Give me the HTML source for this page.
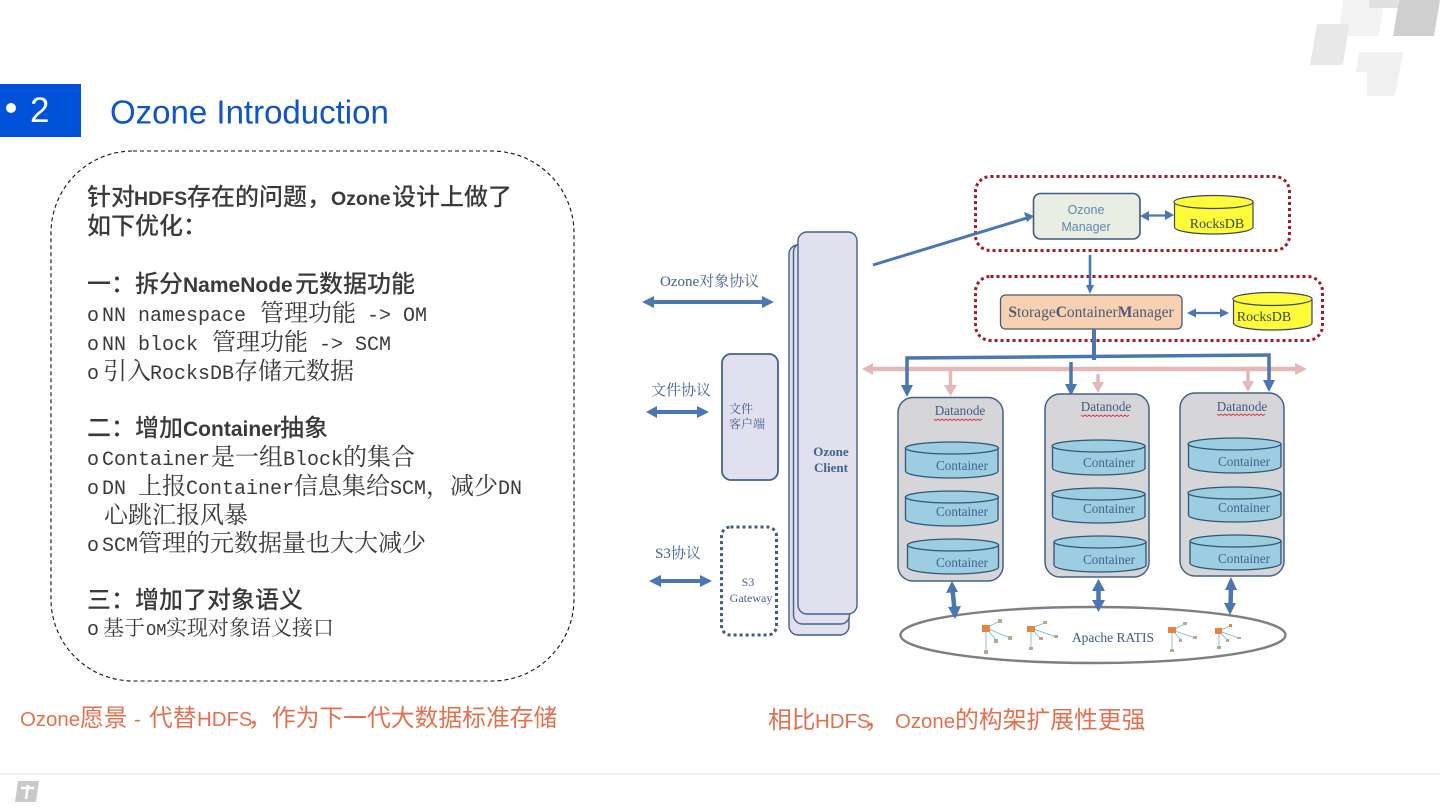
<!DOCTYPE html>
<html lang="zh">
<head>
<meta charset="utf-8">
<title>Ozone Introduction</title>
<style>
html,body{margin:0;padding:0;background:#fff;width:1440px;height:810px;overflow:hidden}
svg{display:block}
.h{font-family:"Liberation Sans","Noto Sans CJK SC",sans-serif;font-size:24px;font-weight:500;fill:#3a3a3a}
.h tspan.l{font-weight:700;font-size:19.500px}
.h tspan.b{font-weight:700;font-size:21px}
.m{font-family:"Liberation Mono","Noto Serif CJK SC",monospace;font-size:20px;fill:#3a3a3a}
.m tspan.c{font-family:"Noto Serif CJK SC",serif;font-size:24px}
.o{font-family:"Liberation Sans","Noto Sans CJK SC",sans-serif;font-size:20.400px;fill:#e5704f}
.o tspan.c{font-size:23.800px}
.s{font-family:"Liberation Serif","Noto Serif CJK SC",serif;fill:#44618f}
.ct{font-family:"Liberation Serif",serif;font-size:13.200px;fill:#44648f;text-anchor:middle}
.dn{font-family:"Liberation Serif",serif;font-size:13.200px;fill:#3f5a86;text-anchor:middle}
.rk{font-family:"Liberation Serif",serif;font-size:14px;fill:#3b4a3a;text-anchor:middle}
.cyl{fill:#9ccde0;stroke:#2f5578;stroke-width:1.300}
.dnb{fill:#d6d6d8;stroke:#44618a;stroke-width:1.500}
.cli{fill:#e0e0ee;stroke:#44618a;stroke-width:1.400}
.blue{stroke:#4a76b4;fill:none}
.pink{stroke:#e3b8b8;fill:none}
.fb{fill:#4a76b4}
.fp{fill:#e3b8b8}
.tl{stroke:#6fb8cc;stroke-width:.8}
.lf{fill:#b4ab8c}
.rt{fill:#e8823e}
</style>
</head>
<body>
<svg width="1440" height="810" viewBox="0 0 1440 810" xmlns="http://www.w3.org/2000/svg">
<!-- top-right decoration -->
<polygon points="1343,0 1384,0 1379,36 1339,36" fill="#f3f3f3"/>
<polygon points="1369,0 1398,0 1398,8 1369,8" fill="#e0e0e0"/>
<polygon points="1399,0 1440,0 1434,36 1393,36" fill="#cfcfcf"/>
<polygon points="1317,24 1349,24 1343,65 1310,65" fill="#e8e8e8"/>
<polygon points="1359,52 1403,52 1395,96 1367,96 1367,72 1356,72" fill="#f0f0f0"/>

<!-- header -->
<rect x="0" y="84" width="81" height="53" fill="#0052d9"/>
<circle cx="11" cy="108" r="5" fill="#fff"/>
<text x="30" y="122" font-family="Liberation Sans, sans-serif" font-size="35" fill="#fff">2</text>
<text x="110" y="123.500" font-family="Liberation Sans, sans-serif" font-size="33" fill="#0f55c8">Ozone Introduction</text>

<!-- dashed panel -->
<rect x="51" y="151" width="523" height="530" rx="82" ry="82" fill="none" stroke="#111" stroke-width="1.100" stroke-dasharray="4 3"/>

<!-- left text -->
<text class="h" x="87" y="205">针对<tspan class="l" x="134">HDFS</tspan><tspan x="187">存在的问题，</tspan><tspan class="l" x="331">Ozone</tspan><tspan x="392">设计上做了</tspan></text>
<text class="h" x="87" y="234">如下优化：</text>
<text class="h" x="87" y="292">一：拆分<tspan class="b" x="183">NameNode</tspan><tspan x="295">元数据功能</tspan></text>
<text class="m" x="87" y="321">o<tspan x="102">NN namespace</tspan><tspan class="c" x="260">管理功能</tspan><tspan x="367">-&gt; OM</tspan></text>
<text class="m" x="87" y="350">o<tspan x="102">NN block</tspan><tspan class="c" x="212">管理功能</tspan><tspan x="319">-&gt; SCM</tspan></text>
<text class="m" x="87" y="379">o<tspan class="c" x="103">引入</tspan><tspan x="150">RocksDB</tspan><tspan class="c" x="234">存储元数据</tspan></text>
<text class="h" x="87" y="436">二：增加<tspan class="b" x="183">Container</tspan><tspan x="280">抽象</tspan></text>
<text class="m" x="87" y="465">o<tspan x="102">Container</tspan><tspan class="c" x="211">是一组</tspan><tspan x="283">Block</tspan><tspan class="c" x="343">的集合</tspan></text>
<text class="m" x="87" y="494">o<tspan x="102">DN</tspan><tspan class="c" x="138">上报</tspan><tspan x="186">Container</tspan><tspan class="c" x="294">信息集给</tspan><tspan x="390">SCM</tspan><tspan class="c" x="426">，减少</tspan><tspan x="498">DN</tspan></text>
<text class="m" x="104" y="523"><tspan class="c">心跳汇报风暴</tspan></text>
<text class="m" x="87" y="551">o<tspan x="102">SCM</tspan><tspan class="c" x="138">管理的元数据量也大大减少</tspan></text>
<text class="h" x="87" y="608">三：增加了对象语义</text>
<text class="m" x="87" y="635">o<tspan class="c" x="103" style="font-size:21px">基于</tspan><tspan x="146" style="font-size:17px">OM</tspan><tspan class="c" x="166" style="font-size:21px">实现对象语义接口</tspan></text>

<!-- captions -->
<text class="o" x="20" y="726">Ozone<tspan class="c" x="80">愿景</tspan><tspan x="134">-</tspan><tspan class="c" x="149">代替</tspan><tspan x="197">HDFS</tspan><tspan class="c" x="248">，作为下一代大数据标准存储</tspan></text>
<text class="o" x="768" y="728"><tspan class="c">相比</tspan><tspan x="815">HDFS</tspan><tspan class="c" x="865">，</tspan><tspan x="895">Ozone</tspan><tspan class="c" x="955">的构架扩展性更强</tspan></text>

<!-- footer -->
<rect x="0" y="773" width="1440" height="2" fill="#f0f0f0"/>
<polygon points="18,781 39,781 36,802 15,802" fill="#c9c9c9"/>
<path d="M21 788h13M28 785l-2 14" stroke="#fff" stroke-width="2.600" fill="none"/>

<!-- protocol labels -->
<text class="s" x="660" y="286" font-size="15">Ozone对象协议</text>
<text class="s" x="651" y="395" font-size="15">文件协议</text>
<text class="s" x="655" y="558" font-size="15">S3协议</text>

<!-- protocol arrows -->
<path class="blue" stroke-width="4" d="M652 302H764"/>
<polygon class="fb" points="642,302 654,296 654,308"/>
<polygon class="fb" points="774,302 762,296 762,308"/>
<path class="blue" stroke-width="4" d="M654 412H700"/>
<polygon class="fb" points="646,412 657,406 657,418"/>
<polygon class="fb" points="709,412 697,406 697,418"/>
<path class="blue" stroke-width="4" d="M658 581H702"/>
<polygon class="fb" points="649,581 661,575 661,587"/>
<polygon class="fb" points="712,581 700,575 700,587"/>

<!-- Ozone client stack -->
<rect class="cli" x="789" y="245" width="60" height="390" rx="9"/>
<rect class="cli" x="793.500" y="243" width="56" height="381" rx="9"/>
<rect class="cli" x="798" y="232" width="59" height="382" rx="9"/>
<text class="s" x="831" y="456" font-size="13" font-weight="700" text-anchor="middle">Ozone</text>
<text class="s" x="831" y="472" font-size="13" font-weight="700" text-anchor="middle">Client</text>

<!-- file client -->
<rect x="722" y="354" width="56" height="126" rx="9" fill="#e0e0ee" stroke="#44618a" stroke-width="1.800"/>
<text class="s" x="729" y="413" font-size="12">文件</text>
<text class="s" x="729" y="428" font-size="12">客户端</text>

<!-- S3 gateway -->
<rect x="721.500" y="527" width="55" height="108" rx="9" fill="#fff" stroke="#3f5a85" stroke-width="3" stroke-dasharray="3 3"/>
<text class="s" x="748" y="586" font-size="12" text-anchor="middle">S3</text>
<text class="s" x="751" y="602" font-size="12" text-anchor="middle">Gateway</text>

<!-- red dotted groups -->
<rect x="975.500" y="176.500" width="314" height="74" rx="15" fill="none" stroke="#a11a26" stroke-width="3" stroke-dasharray="3 3"/>
<rect x="975.500" y="276.500" width="347" height="64" rx="15" fill="none" stroke="#a11a26" stroke-width="3" stroke-dasharray="3 3"/>

<!-- client to OM -->
<path class="blue" stroke-width="3" d="M873 265L1027 218"/>
<polygon class="fb" points="1034,216 1024,212 1027,222"/>

<!-- OM -->
<rect x="1033.500" y="193.500" width="106.500" height="45.500" rx="7" fill="#e9eee2" stroke="#3f5a7a" stroke-width="1.600"/>
<text x="1086" y="214" font-family="Liberation Sans, sans-serif" font-size="12.500" fill="#5f86b8" text-anchor="middle">Ozone</text>
<text x="1086" y="231" font-family="Liberation Sans, sans-serif" font-size="12.500" fill="#5f86b8" text-anchor="middle">Manager</text>
<path class="blue" stroke-width="2.200" d="M1145 215.500H1168"/>
<polygon class="fb" points="1140,216 1149,211 1149,221"/>
<polygon class="fb" points="1174,215 1165,210 1165,220"/>

<!-- RocksDB 1 -->
<path d="M1174.500 202V227C1174.500 231 1192 234 1213.500 234S1253 231 1253 227V202Z" fill="#fdfb3a" stroke="#3d4a55" stroke-width="1.200"/>
<ellipse cx="1213.500" cy="202" rx="39.500" ry="6.500" fill="#fdfb3a" stroke="#3d4a55" stroke-width="1.200"/>
<text class="rk" x="1217" y="228">RocksDB</text>

<!-- OM to SCM -->
<path class="blue" stroke-width="2.600" d="M1090 255V288"/>
<polygon class="fb" points="1090,294 1086,285 1094,285"/>

<!-- SCM -->
<rect x="1000.500" y="295" width="181.500" height="34" rx="5" fill="#f8d0b2" stroke="#4a5a70" stroke-width="1.300"/>
<text x="1091" y="317" font-family="Liberation Serif, serif" font-size="15.500" fill="#4a5a78" text-anchor="middle"><tspan font-weight="700">S</tspan>torage<tspan font-weight="700">C</tspan>ontainer<tspan font-weight="700">M</tspan>anager</text>
<path class="blue" stroke-width="2.200" d="M1192 313H1223"/>
<polygon class="fb" points="1187,313 1196,308.500 1196,317.500"/>
<polygon class="fb" points="1229,313 1220,308.500 1220,317.500"/>

<!-- RocksDB 2 -->
<path d="M1233.500 299V323C1233.500 327 1251 330 1272.500 330S1312 327 1312 323V299Z" fill="#fdfb3a" stroke="#3d4a55" stroke-width="1.200"/>
<ellipse cx="1272.500" cy="299" rx="39.500" ry="6.500" fill="#fdfb3a" stroke="#3d4a55" stroke-width="1.200"/>
<text class="rk" x="1264" y="321">RocksDB</text>

<!-- pink bus -->
<path class="pink" stroke-width="4.500" d="M871 369H1298"/>
<polygon class="fp" points="862,369 873,363 873,375"/>
<polygon class="fp" points="1307,369 1295,363 1295,375"/>
<path class="pink" stroke-width="3.500" d="M950.500 371V388"/>
<polygon class="fp" points="950.500,396 944,385 957,385"/>
<path class="pink" stroke-width="3.500" d="M1098 374V386"/>
<polygon class="fp" points="1098,393 1092,382 1104,382"/>
<path class="pink" stroke-width="3.500" d="M1248 371V385"/>
<polygon class="fp" points="1248,392 1242,381 1254,381"/>

<!-- blue control bus -->
<path class="blue" stroke-width="4" d="M1094 329V360"/>
<path class="blue" stroke-width="3.500" d="M907 388V358L1269 355V384"/>
<polygon class="fb" points="907,397 901,385 913,385"/>
<path class="blue" stroke-width="3.500" d="M1071 362V388"/>
<polygon class="fb" points="1071,396 1065,384 1077,384"/>
<polygon class="fb" points="1269,392 1263,380 1275,380"/>

<!-- Datanode 1 -->
<rect class="dnb" x="898" y="397.500" width="105" height="183.500" rx="15"/>
<text class="dn" x="960" y="415">Datanode</text>
<path d="M934 419l2 1.500 2-1.500 2 1.500 2-1.500 2 1.500 2-1.500 2 1.500 2-1.500 2 1.500 2-1.500 2 1.500 2-1.500 2 1.500 2-1.500 2 1.500 2-1.500 2 1.500 2-1.500 2 1.500 2-1.500 2 1.500 2-1.500 2 1.500 2-1.500" stroke="#d9363e" stroke-width=".9" fill="none"/>
<path class="cyl" d="M905.500 448V471C905.500 475 926 478 952 478S998 475 998 471V448Z"/>
<ellipse class="cyl" cx="952" cy="448" rx="46.500" ry="6"/>
<text class="ct" x="962" y="470">Container</text>
<path class="cyl" d="M905.500 497V519C905.500 523 926 526 952 526S998 523 998 519V497Z"/>
<ellipse class="cyl" cx="952" cy="497" rx="46.500" ry="6"/>
<text class="ct" x="962" y="516">Container</text>
<path class="cyl" d="M907.500 545V567C907.500 571 928 574 953 574S998.500 571 998.500 567V545Z"/>
<ellipse class="cyl" cx="953" cy="545" rx="45.500" ry="6"/>
<text class="ct" x="962" y="567">Container</text>

<!-- Datanode 2 -->
<rect class="dnb" x="1045" y="394" width="104" height="183" rx="15"/>
<text class="dn" x="1106" y="411">Datanode</text>
<path d="M1081 415l2 1.500 2-1.500 2 1.500 2-1.500 2 1.500 2-1.500 2 1.500 2-1.500 2 1.500 2-1.500 2 1.500 2-1.500 2 1.500 2-1.500 2 1.500 2-1.500 2 1.500 2-1.500 2 1.500 2-1.500 2 1.500 2-1.500 2 1.500 2-1.500" stroke="#d9363e" stroke-width=".9" fill="none"/>
<path class="cyl" d="M1052.500 446V468C1052.500 472 1073 475 1098.500 475S1145 472 1145 468V446Z"/>
<ellipse class="cyl" cx="1098.500" cy="446" rx="46.500" ry="6"/>
<text class="ct" x="1109" y="467">Container</text>
<path class="cyl" d="M1052.500 494V516C1052.500 520 1073 523 1098.500 523S1145 520 1145 516V494Z"/>
<ellipse class="cyl" cx="1098.500" cy="494" rx="46.500" ry="6"/>
<text class="ct" x="1109" y="513">Container</text>
<path class="cyl" d="M1054 542V565C1054 569 1074 572 1100 572S1146 569 1146 565V542Z"/>
<ellipse class="cyl" cx="1100" cy="542" rx="46" ry="6"/>
<text class="ct" x="1109" y="564">Container</text>

<!-- Datanode 3 -->
<rect class="dnb" x="1180" y="393" width="104" height="183" rx="15"/>
<text class="dn" x="1242" y="411">Datanode</text>
<path d="M1217 414l2 1.500 2-1.500 2 1.500 2-1.500 2 1.500 2-1.500 2 1.500 2-1.500 2 1.500 2-1.500 2 1.500 2-1.500 2 1.500 2-1.500 2 1.500 2-1.500 2 1.500 2-1.500 2 1.500 2-1.500 2 1.500 2-1.500 2 1.500 2-1.500" stroke="#d9363e" stroke-width=".9" fill="none"/>
<path class="cyl" d="M1188.500 444V466C1188.500 470 1209 473 1234.500 473S1281 470 1281 466V444Z"/>
<ellipse class="cyl" cx="1234.500" cy="444" rx="46.500" ry="6"/>
<text class="ct" x="1244" y="466">Container</text>
<path class="cyl" d="M1188.500 493V515C1188.500 519 1209 522 1234.500 522S1281 519 1281 515V493Z"/>
<ellipse class="cyl" cx="1234.500" cy="493" rx="46.500" ry="6"/>
<text class="ct" x="1244" y="512">Container</text>
<path class="cyl" d="M1190 541V563C1190 567 1210 570 1235.500 570S1281 567 1281 563V541Z"/>
<ellipse class="cyl" cx="1235.500" cy="541" rx="45.500" ry="6"/>
<text class="ct" x="1244" y="563">Container</text>

<!-- RATIS ellipse -->
<ellipse cx="1093" cy="635" rx="192.500" ry="28" fill="#fff" stroke="#7f7f7f" stroke-width="2.400"/>
<text x="1113" y="642" font-family="Liberation Serif, serif" font-size="13.500" fill="#3f5a86" text-anchor="middle">Apache RATIS</text>

<!-- vertical double arrows -->
<path class="blue" stroke-width="4.500" d="M952.500 590L954.500 610"/>
<polygon class="fb" points="952,581 946,593 958,592"/>
<polygon class="fb" points="955,619 948,607 961,606"/>
<path class="blue" stroke-width="4.500" d="M1098.500 588V604"/>
<polygon class="fb" points="1098.500,579 1092,591 1105,591"/>
<polygon class="fb" points="1098.500,612 1092,600 1105,600"/>
<path class="blue" stroke-width="4.500" d="M1231 586L1230.500 607"/>
<polygon class="fb" points="1231,577 1225,590 1237,590"/>
<polygon class="fb" points="1230,615 1224,603 1236,603"/>

<!-- tree icon 1 -->
<g>
<path class="tl" d="M986 628L1000 621M986 628L1010 638M986 628L996 640M986 628V651"/>
<rect class="rt" x="982" y="625" width="8" height="7"/>
<rect class="lf" x="998" y="619" width="4" height="4"/>
<rect class="lf" x="1008" y="636" width="4" height="4"/>
<rect class="lf" x="994" y="639" width="4" height="4"/>
<rect class="lf" x="984" y="650" width="4" height="4"/>
</g>
<!-- tree icon 2 -->
<g>
<path class="tl" d="M1031 628L1045 623M1031 628L1056 637M1031 628L1041 639M1031 628V648"/>
<rect class="rt" x="1027" y="626" width="8" height="6"/>
<rect class="lf" x="1043" y="621" width="4" height="3"/>
<rect class="lf" x="1054" y="635" width="4" height="3"/>
<rect class="lf" x="1039" y="637" width="4" height="3"/>
<rect class="lf" x="1029" y="647" width="4" height="3"/>
</g>
<!-- tree icon 3 -->
<g>
<path class="tl" d="M1172 630L1185 624M1172 630L1195 638M1172 630L1181 640M1172 630V650"/>
<rect class="rt" x="1168" y="627" width="8" height="6"/>
<rect class="lf" x="1183" y="622" width="4" height="3"/>
<rect class="lf" x="1193" y="636" width="4" height="3"/>
<rect class="lf" x="1179" y="639" width="3" height="3"/>
<rect class="lf" x="1170" y="649" width="4" height="3"/>
</g>
<!-- tree icon 4 -->
<g>
<path class="tl" d="M1219 631L1230 626M1219 631L1239 638M1219 631L1227 640M1219 631V647"/>
<rect class="rt" x="1215" y="628" width="7" height="6"/>
<rect x="1229" y="624" width="3" height="3" fill="#e8823e"/>
<rect class="lf" x="1237" y="637" width="4" height="2"/>
<rect class="lf" x="1226" y="639" width="3" height="3"/>
<rect class="lf" x="1217" y="646" width="4" height="3"/>
</g>
</svg>
</body>
</html>
